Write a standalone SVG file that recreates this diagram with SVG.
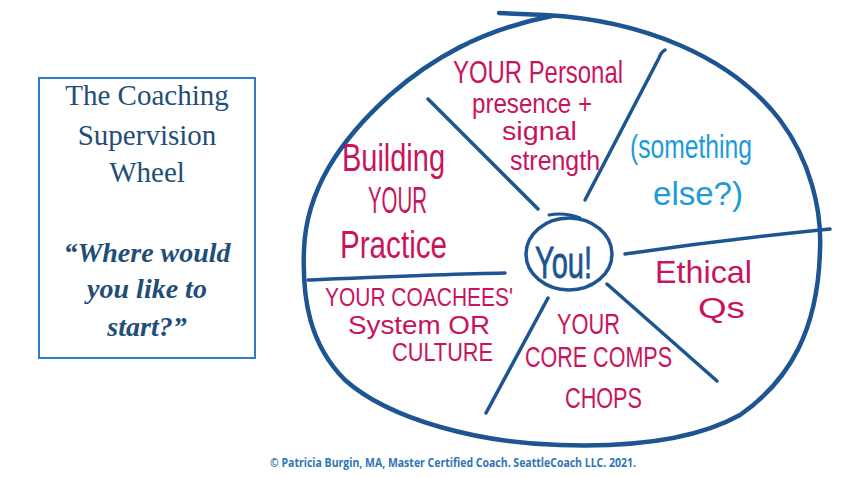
<svg xmlns="http://www.w3.org/2000/svg" width="864" height="477" viewBox="0 0 864 477">
<style>
.wheel{fill:none;stroke:#1d5592;stroke-linecap:round;stroke-linejoin:round}
.hand{font-family:"Liberation Sans","DejaVu Sans",sans-serif;fill:#c8145e}
.blue{fill:#1e9bd7}
.title{font-family:"Liberation Serif","DejaVu Serif",serif;fill:#1f4e79;text-anchor:middle}
</style>
<rect width="864" height="477" fill="#ffffff"/>
<g id="title-box">
<rect x="39" y="78" width="216" height="280" fill="#ffffff" stroke="#2e7bc6" stroke-width="2"/>
<text class="title" x="147" y="105" font-size="29">The Coaching</text>
<text class="title" x="147" y="145" font-size="29">Supervision</text>
<text class="title" x="147" y="182" font-size="29">Wheel</text>
<text class="title" x="147" y="262" font-size="28" font-style="italic" font-weight="bold">“Where would</text>
<text class="title" x="147" y="298" font-size="28" font-style="italic" font-weight="bold">you like to</text>
<text class="title" x="147" y="336" font-size="28" font-style="italic" font-weight="bold">start?”</text>
</g>
<g id="connectors">
<path class="wheel" stroke-width="4.5" d="M 499 13 L 545 15 C 640 20 730 55 780 120 C 810 160 822 210 820 250 C 818 330 790 380 740 415 C 690 443 620 447 560 445 C 480 443 390 420 345 380 C 310 345 302 300 304 250 C 306 190 340 140 390 95 C 430 60 480 30 552 16"/>
<path class="wheel" stroke-width="3.5" d="M 428 99 L 538 209"/>
<path class="wheel" stroke-width="3.5" d="M 665 50 Q 661 52 659 58 L 585 200"/>
<path class="wheel" stroke-width="3.5" d="M 625 254 C 660 249 740 238 830 229"/>
<path class="wheel" stroke-width="3.5" d="M 607 284 L 717 381"/>
<path class="wheel" stroke-width="3.5" d="M 548 298 L 486 413"/>
<path class="wheel" stroke-width="3.5" d="M 308 280 C 380 277 450 274 505 273"/>
</g>
<g id="center-you">
<ellipse class="wheel" stroke-width="3.5" cx="569" cy="254" rx="43" ry="36"/>
<path class="wheel" stroke-width="3" d="M 549 215 Q 565 212 580 218"/>
<text x="535" y="278" font-size="44" textLength="57" lengthAdjust="spacingAndGlyphs" font-family="Liberation Sans, DejaVu Sans, sans-serif" fill="#1d5592" stroke="#1d5592" stroke-width="0.8">You!</text>
</g>
<g id="node-personal-presence" class="hand">
<text x="453" y="83" font-size="32" textLength="170" lengthAdjust="spacingAndGlyphs">YOUR Personal</text>
<text x="472" y="113" font-size="27" textLength="120" lengthAdjust="spacingAndGlyphs">presence +</text>
<text x="502" y="140" font-size="25" textLength="75" lengthAdjust="spacingAndGlyphs">signal</text>
<text x="510" y="170" font-size="28" textLength="90" lengthAdjust="spacingAndGlyphs">strength</text>
</g>
<g id="node-building-practice" class="hand">
<text x="342" y="171" font-size="38" textLength="103" lengthAdjust="spacingAndGlyphs">Building</text>
<text x="368" y="213" font-size="36" textLength="59" lengthAdjust="spacingAndGlyphs">YOUR</text>
<text x="340" y="258" font-size="38" textLength="107" lengthAdjust="spacingAndGlyphs">Practice</text>
</g>
<g id="node-something-else" class="hand blue">
<text x="630" y="158" font-size="34" textLength="122" lengthAdjust="spacingAndGlyphs">(something</text>
<text x="653" y="205" font-size="34" textLength="90" lengthAdjust="spacingAndGlyphs">else?)</text>
</g>
<g id="node-ethical" class="hand">
<text x="655" y="283" font-size="32" textLength="97" lengthAdjust="spacingAndGlyphs">Ethical</text>
<text x="698" y="318" font-size="30" textLength="47" lengthAdjust="spacingAndGlyphs">Qs</text>
</g>
<g id="node-core-comps" class="hand">
<text x="557" y="334" font-size="30" textLength="63" lengthAdjust="spacingAndGlyphs">YOUR</text>
<text x="525" y="367" font-size="30" textLength="147" lengthAdjust="spacingAndGlyphs">CORE COMPS</text>
<text x="565" y="408" font-size="30" textLength="77" lengthAdjust="spacingAndGlyphs">CHOPS</text>
</g>
<g id="node-coachees-system" class="hand">
<text x="325" y="306" font-size="26" textLength="188" lengthAdjust="spacingAndGlyphs">YOUR COACHEES'</text>
<text x="348" y="334" font-size="26" textLength="142" lengthAdjust="spacingAndGlyphs">System OR</text>
<text x="392" y="361" font-size="26" textLength="101" lengthAdjust="spacingAndGlyphs">CULTURE</text>
</g>
<text x="453" y="467" font-size="12" font-weight="bold" text-anchor="middle" textLength="366" lengthAdjust="spacingAndGlyphs" font-family="Open Sans, Liberation Sans, sans-serif" fill="#2e75b6">© Patricia Burgin, MA, Master Certified Coach. SeattleCoach LLC. 2021.</text>
</svg>
